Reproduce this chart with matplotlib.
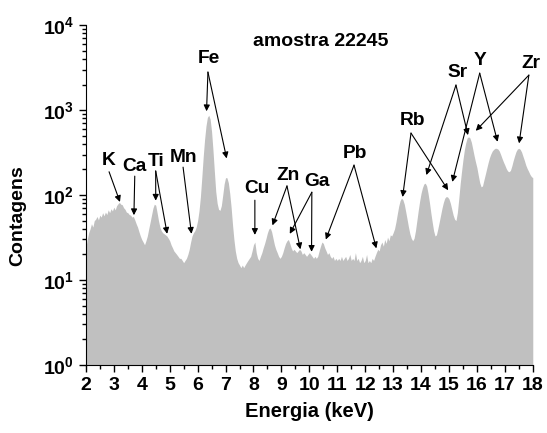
"""
Espectro XRF - amostra 22245
"""

import numpy as np
import matplotlib
import matplotlib.pyplot as plt
from matplotlib.ticker import LogLocator, MultipleLocator, FixedLocator, NullFormatter

matplotlib.use('Agg')

plt.rcParams['font.family'] = ['Liberation Sans', 'DejaVu Sans']
plt.rcParams['font.weight'] = 'bold'
plt.rcParams['mathtext.fontset'] = 'custom'
plt.rcParams['mathtext.bf'] = 'Liberation Sans:bold'
plt.rcParams['mathtext.rm'] = 'Liberation Sans:bold'

# ==========================================
# DADOS (contagens a cada 0.05 keV, 2 -> 18 keV)
# ==========================================
counts_2 = [24, 30, 36, 40, 46, 42, 50, 52, 56, 51, 58, 55, 62, 57, 63, 59, 67, 62, 69, 65]
counts_3 = [72, 67, 75, 79, 82, 78, 77, 71, 68, 63, 62, 59, 58, 55, 56, 51, 46, 42, 37, 33]
counts_4 = [30, 28, 26, 29, 33, 40, 48, 58, 70, 78, 76, 62, 50, 42, 38, 36, 35, 34, 33, 31]
counts_5 = [29, 26, 24, 22, 21, 20, 19, 18, 18, 17, 16, 17, 18, 20, 23, 28, 33, 36, 38, 42]
counts_6 = [50, 65, 95, 160, 280, 450, 650, 820, 870, 780, 560, 340, 190, 110, 80, 68, 66, 75, 100, 135]
counts_7 = [160, 160, 140, 105, 72, 45, 30, 22, 18, 16, 15, 14, 15, 14, 15, 16, 17, 18, 19, 22]
counts_8 = [26, 28, 21, 18, 17, 19, 21, 24, 27, 31, 36, 40, 41, 37, 31, 26, 23, 21, 19, 18]
counts_9 = [19, 21, 24, 27, 29, 30, 27, 24, 22, 23, 22, 21, 22, 23, 22, 20, 21, 20, 19, 20]
counts_10 = [21, 20, 19, 18, 19, 18, 19, 22, 25, 28, 27, 24, 22, 20, 21, 19, 18, 19, 17, 18]
counts_11 = [17, 18, 17, 19, 17, 18, 19, 17, 18, 20, 17, 18, 17, 21, 17, 18, 16, 17, 19, 16]
counts_12 = [17, 20, 16, 17, 16, 18, 17, 19, 21, 23, 22, 26, 28, 25, 30, 27, 32, 29, 34, 33]
counts_13 = [36, 40, 48, 60, 74, 86, 92, 88, 78, 64, 52, 42, 35, 31, 29, 31, 38, 50, 66, 85]
counts_14 = [105, 122, 135, 138, 128, 105, 82, 62, 48, 38, 33, 34, 40, 48, 58, 70, 82, 92, 96, 95]
counts_15 = [90, 80, 68, 58, 52, 50, 62, 90, 135, 190, 260, 340, 410, 470, 485, 470, 420, 350, 290, 245]
counts_16 = [210, 170, 140, 125, 128, 150, 175, 205, 240, 275, 305, 330, 345, 355, 355, 348, 330, 300, 270, 245]
counts_17 = [225, 205, 192, 188, 195, 220, 255, 290, 325, 348, 355, 345, 320, 285, 255, 225, 205, 190, 175, 165]
counts_18 = [160]

counts = np.array(counts_2 + counts_3 + counts_4 + counts_5 + counts_6 + counts_7 + counts_8
                  + counts_9 + counts_10 + counts_11 + counts_12 + counts_13 + counts_14
                  + counts_15 + counts_16 + counts_17 + counts_18, dtype=float)
energy = np.linspace(2, 18, len(counts))

# elementos: rotulo, posicao do texto, inicio das setas, pontas das setas
elements = [
    ('K',  (2.83, 253),  (2.83, 188),  [(3.22, 83)]),
    ('Ca', (3.75, 215),  (3.75, 167),  [(3.72, 58)]),
    ('Ti', (4.50, 251),  (4.50, 192),  [(4.50, 86), (4.91, 35)]),
    ('Mn', (5.48, 277),  (5.48, 213),  [(5.78, 35)]),
    ('Fe', (6.41, 4060), (6.37, 2800), [(6.32, 970), (7.04, 270)]),
    ('Cu', (8.13, 118),  (8.05, 87),   [(8.05, 34)]),
    ('Zn', (9.22, 172),  (9.20, 128),  [(8.68, 44), (9.68, 23)]),
    ('Ga', (10.26, 143), (10.09, 108), [(9.30, 35), (10.08, 21.5)]),
    ('Pb', (11.63, 312), (11.60, 225), [(10.59, 30), (12.40, 23.6)]),
    ('Rb', (13.69, 748), (13.64, 536), [(13.34, 95), (14.97, 114)]),
    ('Sr', (15.29, 2750), (15.25, 1970), [(14.19, 172), (15.68, 508)]),
    ('Y',  (16.10, 3870), (16.10, 2720), [(15.12, 143), (16.74, 424)]),
    ('Zr', (17.92, 3540), (17.86, 2580), [(15.96, 571), (17.51, 406)]),
]

fig = plt.figure(figsize=(5.47, 4.33), dpi=100)
ax = fig.add_axes([0.157, 0.157, 0.817, 0.785])

ax.fill_between(energy, counts, 1, color='#c0c0c0', lw=0, zorder=1)

ax.set_yscale('log')
ax.set_xlim(2, 18)
ax.set_ylim(1, 1e4)

ax.spines['top'].set_visible(False)
ax.spines['right'].set_visible(False)

ax.xaxis.set_major_locator(MultipleLocator(1))
ax.xaxis.set_minor_locator(MultipleLocator(0.5))
ax.yaxis.set_major_locator(FixedLocator([1, 10, 100, 1000, 10000]))
ax.yaxis.set_minor_locator(LogLocator(base=10, subs=np.arange(2, 10), numticks=20))
ax.yaxis.set_minor_formatter(NullFormatter())
ax.set_yticklabels([r'$\mathbf{10^{%d}}$' % i for i in range(5)])

ax.tick_params(which='both', direction='out', width=1, labelsize=14)
ax.tick_params(which='major', length=5)
ax.tick_params(which='minor', length=3)
for lab in ax.get_xticklabels():
    lab.set_fontweight('bold')

ax.set_xlabel('Energia (keV)', fontsize=14.5, fontweight='bold', labelpad=6)
ax.set_ylabel('Contagens', fontsize=14, fontweight='bold')
ax.yaxis.set_label_coords(-0.133, 0.44)

ax.text(10.4, 6500, 'amostra 22245', ha='center', va='center', fontsize=14, fontweight='bold')

arrow = dict(arrowstyle='-|>', color='black', lw=0.8, mutation_scale=9, shrinkA=0, shrinkB=0)
for name, txt, start, tips in elements:
    ax.text(txt[0], txt[1], name, ha='center', va='center', fontsize=13.8, fontweight='bold', zorder=3)
    for tip in tips:
        ax.annotate('', xy=tip, xytext=start, arrowprops=arrow, zorder=3)

fig.savefig('out.png', dpi=100)
